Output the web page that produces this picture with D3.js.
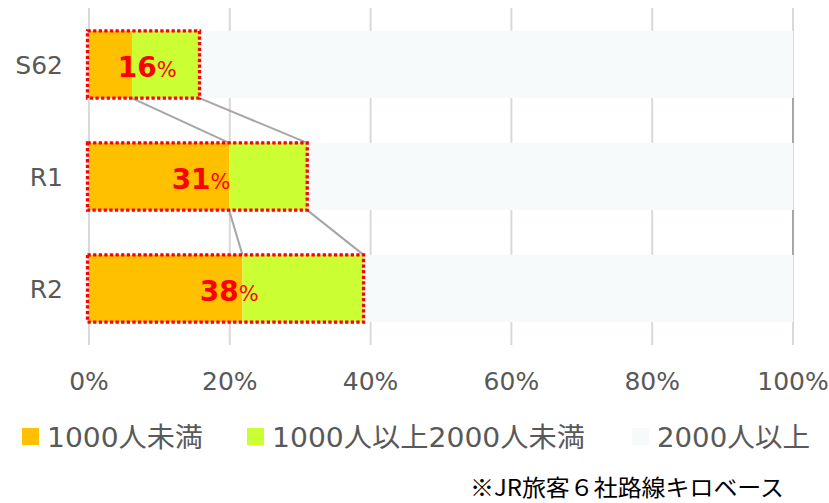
<!DOCTYPE html>
<html>
<head>
<meta charset="utf-8">
<script src="https://cdn.jsdelivr.net/npm/d3@7"></script>
<style>
  body { margin: 0; background: #fff; }
  svg { display: block; }
  text { font-family: "DejaVu Sans", "Noto Sans CJK JP", sans-serif; }
</style>
</head>
<body>
<div id="chart"></div>
<script>
// data
const categories = ["S62", "R1", "R2"];
const seriesNames = ["1000人未満", "1000人以上2000人未満", "2000人以上"];
const under1000 = [6.1, 19.9, 21.8];
const from1000to2000 = [9.6, 11.1, 17.2];
const over2000 = [84.3, 69.0, 61.0];
const shareLabels = ["16", "31", "38"];
const tickValues = [0, 20, 40, 60, 80, 100];
const footnote = "※JR旅客６社路線キロベース";

const colors = ["#ffc000", "#ccff33", "#f6fafb"];

const W = 829, H = 503;
const svg = d3.select("#chart").append("svg")
    .attr("width", W)
    .attr("height", H);

// scales
const x = d3.scaleLinear().domain([0, 100]).range([89, 793]);
const y = d3.scaleBand().domain(categories)
    .range([8.5, 344.5])
    .paddingInner(0.4)
    .paddingOuter(0.2);

// stack the three series per category
const rows = categories.map((c, i) => ({
    cat: c,
    s0: under1000[i],
    s1: from1000to2000[i],
    s2: over2000[i]
}));
const stack = d3.stack().keys(["s0", "s1", "s2"])(rows);

// gridlines
svg.append("g")
    .selectAll("line")
    .data(tickValues)
    .enter().append("line")
    .attr("x1", d => x(d))
    .attr("x2", d => x(d))
    .attr("y1", 8)
    .attr("y2", 345)
    .style("stroke", "#d9d9d9")
    .style("stroke-width", 2);

// bars
svg.append("g")
    .selectAll("g")
    .data(stack)
    .enter().append("g")
    .style("fill", (d, i) => colors[i])
    .selectAll("rect")
    .data(d => d)
    .enter().append("rect")
    .attr("x", d => x(d[0]))
    .attr("y", d => y(d.data.cat))
    .attr("width", d => x(d[1]) - x(d[0]))
    .attr("height", y.bandwidth());

// series lines joining the bars
const seriesLines = [];
stack.forEach(layer => {
    for (let i = 0; i < layer.length - 1; i++) {
        seriesLines.push({
            x1: layer[i][1], cat1: layer[i].data.cat,
            x2: layer[i + 1][1], cat2: layer[i + 1].data.cat
        });
    }
});
svg.append("g")
    .selectAll("line")
    .data(seriesLines)
    .enter().append("line")
    .attr("x1", d => x(d.x1))
    .attr("y1", d => y(d.cat1) + y.bandwidth())
    .attr("x2", d => x(d.x2))
    .attr("y2", d => y(d.cat2))
    .style("stroke", "#a6a6a6")
    .style("stroke-width", 2);

// red dotted boxes around the first two series
svg.append("g")
    .selectAll("rect")
    .data(rows)
    .enter().append("rect")
    .attr("x", x(0) - 1.5)
    .attr("y", d => y(d.cat))
    .attr("width", d => x(d.s0 + d.s1) - x(0) + 1.5)
    .attr("height", y.bandwidth())
    .style("fill", "none")
    .style("stroke", "#ff0000")
    .style("stroke-width", 3.3)
    .style("stroke-dasharray", "3.3,2.3");

// share labels
const lbl = svg.append("g")
    .selectAll("text")
    .data(rows)
    .enter().append("text")
    .attr("x", d => (x(0) + x(d.s0 + d.s1)) / 2 + 3)
    .attr("y", d => y(d.cat) + y.bandwidth() / 2 + 12)
    .attr("text-anchor", "middle")
    .style("fill", "#ff0000");
lbl.append("tspan")
    .style("font-size", "28px")
    .style("font-weight", "bold")
    .text((d, i) => shareLabels[i]);
lbl.append("tspan")
    .style("font-size", "21px")
    .text("%");

// category labels
svg.append("g")
    .selectAll("text")
    .data(categories)
    .enter().append("text")
    .attr("x", 63)
    .attr("y", d => y(d) + y.bandwidth() / 2 + 9)
    .attr("text-anchor", "end")
    .style("fill", "#595959")
    .style("font-size", "25px")
    .text(d => d);

// x tick labels
svg.append("g")
    .selectAll("text")
    .data(tickValues)
    .enter().append("text")
    .attr("x", d => x(d))
    .attr("y", 390)
    .attr("text-anchor", "middle")
    .style("fill", "#595959")
    .style("font-size", "25px")
    .text(d => d + "%");

// legend
const legendX = [22, 247, 632];
const legendTextW = [156, 313, 153];
const leg = svg.append("g")
    .selectAll("g")
    .data(seriesNames)
    .enter().append("g")
    .attr("transform", (d, i) => `translate(${legendX[i]},428)`);
leg.append("rect")
    .attr("width", 17)
    .attr("height", 17)
    .style("fill", (d, i) => colors[i]);
leg.append("text")
    .attr("x", 25)
    .attr("y", 19)
    .attr("textLength", (d, i) => legendTextW[i])
    .attr("lengthAdjust", "spacingAndGlyphs")
    .style("fill", "#595959")
    .style("font-size", "27px")
    .text(d => d);

// footnote
svg.append("text")
    .attr("x", 470)
    .attr("y", 496)
    .attr("textLength", 314)
    .attr("lengthAdjust", "spacingAndGlyphs")
    .style("fill", "#000")
    .style("font-size", "23px")
    .style("font-family", "'Noto Sans CJK JP', sans-serif")
    .text(footnote);
</script>
</body>
</html>
